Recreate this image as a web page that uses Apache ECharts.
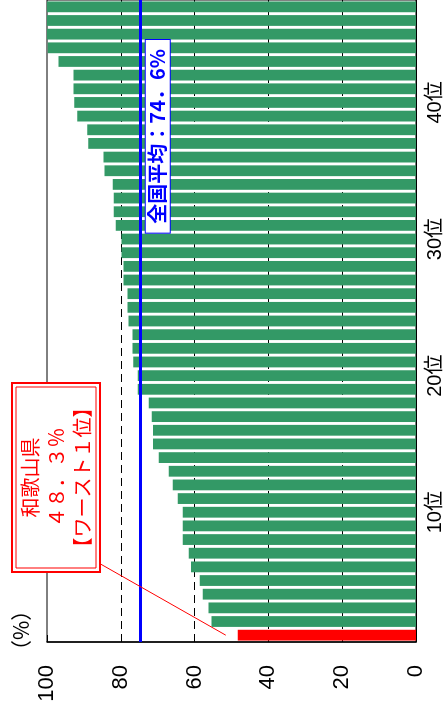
<!DOCTYPE html>
<html>
<head>
<meta charset="utf-8">
<script src="https://cdn.jsdelivr.net/npm/echarts@6/dist/echarts.min.js"></script>
<style>
  html, body { margin: 0; padding: 0; background: #fff; overflow: hidden; width: 446px; height: 711px; }
  /* chart is drawn upright and then turned a quarter turn to the left */
  #chart { position: absolute; left: 0; top: 0; width: 711px; height: 446px;
           transform-origin: 0 0; transform: translateY(711px) rotate(-90deg); }
</style>
</head>
<body>
<div id="chart"></div>
<script>
// 順位 (1位 = ワースト)
const ranks = [1, 2, 3, 4, 5, 6, 7, 8, 9, 10, 11, 12, 13, 14, 15, 16, 17, 18, 19, 20,
  21, 22, 23, 24, 25, 26, 27, 28, 29, 30, 31, 32, 33, 34, 35, 36, 37, 38, 39, 40,
  41, 42, 43, 44, 45, 46, 47];
// 割合 (%)
const rates = [48.3, 55.4, 56.2, 57.8, 58.6, 61.0, 61.6, 63.2, 63.2, 63.2,
  64.6, 65.9, 67.0, 69.7, 71.3, 71.3, 71.6, 72.4, 75.4, 75.4,
  76.6, 76.8, 76.8, 77.9, 78.2, 78.2, 79.3, 79.3, 79.8, 79.8,
  81.4, 81.9, 81.9, 82.2, 84.4, 84.7, 88.8, 89.1, 91.8, 92.6,
  92.8, 92.8, 96.9, 99.8, 100, 100, 100];
const valueTicks = [0, 20, 40, 60, 80, 100];
const labelRanks = [10, 20, 30, 40];
const nationalAvg = 74.6;
const avgText = '全国平均：74．6%';
const noteLines = ['和歌山県', '４８．３％', '【ワースト１位】'];
const worstIndex = 0;

const GREEN = '#339966';
const RED = '#ff0000';
const BLUE = '#0000ff';
const FONT = '"Liberation Sans", "Noto Sans CJK JP", sans-serif';
const JFONT = '"Noto Sans CJK JP", sans-serif';

const chart = echarts.init(document.getElementById('chart'));

const barData = rates.map((v, i) => i === worstIndex
  ? { value: v, itemStyle: { color: RED } }
  : v);

chart.setOption({
  animation: false,
  grid: { left: 69, right: 0, top: 47, bottom: 30, show: true, borderColor: '#000', borderWidth: 1 },
  xAxis: {
    type: 'category',
    data: ranks,
    axisLine: { lineStyle: { color: '#000', width: 1 } },
    axisTick: { inside: true, length: 6, interval: 0, lineStyle: { color: '#333' } },
    axisLabel: {
      interval: (i, v) => labelRanks.indexOf(Number(v)) >= 0,
      formatter: v => v + '位',
      fontSize: 20, color: '#000', margin: 9, fontFamily: FONT
    }
  },
  yAxis: {
    type: 'value',
    min: valueTicks[0], max: valueTicks[valueTicks.length - 1], interval: 20,
    axisLine: { show: true, lineStyle: { color: '#000', width: 1.5 } },
    axisTick: { show: true, inside: true, length: 7, lineStyle: { color: '#000' } },
    splitLine: { show: true, showMaxLine: false, lineStyle: { color: '#000', type: [8, 5], width: 1 } },
    axisLabel: { fontSize: 22, color: '#000', margin: 23, fontFamily: FONT }
  },
  series: [{
    type: 'bar',
    data: barData,
    barCategoryGap: '21%',
    itemStyle: { color: GREEN },
    markLine: {
      silent: true,
      symbol: 'none',
      label: { show: false },
      lineStyle: { color: BLUE, width: 3, type: 'solid' },
      data: [{ yAxis: nationalAvg }]
    }
  }]
});

// 注記の位置は軸から求める
const avgY = chart.convertToPixel({ yAxisIndex: 0 }, nationalAvg);
const worstPt = chart.convertToPixel({ gridIndex: 0 }, [worstIndex, rates[worstIndex]]);
const plotRight = chart.getWidth();

chart.setOption({
  graphic: [
    {
      type: 'text', left: 50, top: 11, z: 10,
      style: { text: '（%）', font: '21px ' + JFONT, fill: '#000' }
    },
    {
      type: 'text', z: 20,
      x: plotRight - 40, y: avgY + 5,
      style: {
        text: avgText, font: 'bold 20px ' + JFONT, fill: BLUE,
        align: 'right', verticalAlign: 'top',
        backgroundColor: '#fff', borderColor: BLUE, borderWidth: 1,
        padding: [2, 9, 2, 9]
      }
    },
    {
      type: 'line', z: 20,
      shape: { x1: 149, y1: 97, x2: worstPt[0], y2: worstPt[1] - 12 },
      style: { stroke: RED, lineWidth: 1 }
    },
    {
      type: 'rect', z: 21,
      shape: { x: 139, y: 12, width: 189, height: 88 },
      style: { fill: '#fff', stroke: RED, lineWidth: 2 }
    },
    {
      type: 'rect', z: 21,
      shape: { x: 143, y: 16, width: 181, height: 80 },
      style: { fill: 'none', stroke: RED, lineWidth: 1 }
    }
  ].concat(noteLines.map((t, i) => ({
    type: 'text', z: 22,
    x: 233.5, y: 30 + i * 26,
    style: { text: t, font: '20px ' + JFONT, fill: RED, align: 'center', verticalAlign: 'middle' }
  })))
});
</script>
</body>
</html>
